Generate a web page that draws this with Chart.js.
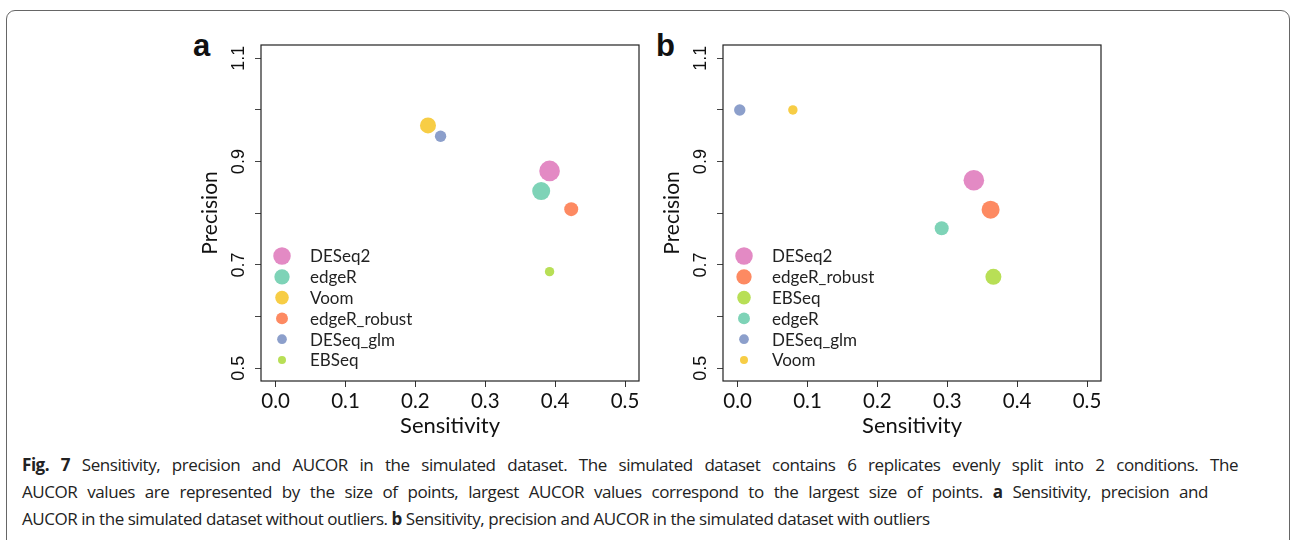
<!DOCTYPE html>
<html>
<head>
<meta charset="utf-8">
<script src="https://cdn.jsdelivr.net/npm/chart.js@4.4.1/dist/chart.umd.min.js"></script>
<style>
  html, body { margin: 0; padding: 0; background: #fff; }
  body { width: 1290px; height: 540px; position: relative; overflow: hidden; font-family: Lato, "Open Sans", sans-serif; }
  .frame { position: absolute; left: 6px; top: 10px; width: 1282px; height: 600px; border: 1.5px solid #666; border-radius: 9px; }
  .panel { position: absolute; top: 25px; width: 500px; height: 425px; }
  .letter { position: absolute; font-family: "Liberation Sans", Arial, sans-serif; font-weight: bold; font-size: 31px; color: #111; line-height: 1; }
  .caption { position: absolute; left: 22px; top: 451px; font-family: "Open Sans", sans-serif; font-size: 17px; line-height: 27px; letter-spacing: -0.45px; color: #222; white-space: nowrap; }
  .caption div { height: 27px; }
  .caption .just { text-align: justify; text-align-last: justify; }
  .caption b { font-weight: bold; }
</style>
</head>
<body>
<div class="frame"></div>
<div class="letter" style="left:193px; top:30px;">a</div>
<div class="letter" style="left:656px; top:30px;">b</div>
<div class="panel" style="left:150px;"><canvas id="chartA"></canvas></div>
<div class="panel" style="left:612px;"><canvas id="chartB"></canvas></div>
<div class="caption">
  <div class="just" style="width:1216px"><b>Fig.&nbsp;7</b> Sensitivity, precision and AUCOR in the simulated dataset. The simulated dataset contains 6 replicates evenly split into 2 conditions. The</div>
  <div class="just" style="width:1186px">AUCOR values are represented by the size of points, largest AUCOR values correspond to the largest size of points. <b>a</b> Sensitivity, precision and</div>
  <div>AUCOR in the simulated dataset without outliers. <b>b</b> Sensitivity, precision and AUCOR in the simulated dataset with outliers</div>
</div>
<script>
// panel a: simulated dataset without outliers
const methodsA = ['DESeq2', 'edgeR', 'Voom', 'edgeR_robust', 'DESeq_glm', 'EBSeq']
const sensitivityA = [0.392, 0.380, 0.218, 0.423, 0.236, 0.392]
const precisionA = [0.882, 0.843, 0.970, 0.808, 0.949, 0.687]
const aucorRankA = [6, 5, 4, 3, 2, 1] // 6 = largest AUCOR

// panel b: simulated dataset with outliers
const methodsB = ['DESeq2', 'edgeR_robust', 'EBSeq', 'edgeR', 'DESeq_glm', 'Voom']
const sensitivityB = [0.338, 0.362, 0.366, 0.292, 0.003, 0.079]
const precisionB = [0.864, 0.807, 0.677, 0.771, 1.000, 1.000]
const aucorRankB = [6, 5, 4, 3, 2, 1]

const xTicks = [0, 0.1, 0.2, 0.3, 0.4, 0.5]
const yTickLabels = ['0.5', '0.7', '0.9', '1.1']

const colors = {
  DESeq2: '#e38ac4',
  edgeR: '#7ed3b7',
  Voom: '#f7cd45',
  edgeR_robust: '#fd8a62',
  DESeq_glm: '#8c9fcb',
  EBSeq: '#b8df56',
}
// point radius per AUCOR rank (1..6)
const rankRadius = [4.7, 5.7, 7, 8, 9, 10.3]

const AXIS_FONT = 'Lato, "Open Sans", sans-serif'

// box round the plot area
const boxPlugin = {
  id: 'box',
  afterDraw(chart) {
    const { ctx, chartArea: a } = chart
    ctx.save()
    ctx.strokeStyle = '#222'
    ctx.lineWidth = 1.2
    ctx.strokeRect(a.left, a.top, a.right - a.left, a.bottom - a.top)
    ctx.restore()
  },
}

// legend inside the plot, lower left
const innerLegend = {
  id: 'innerLegend',
  afterDatasetsDraw(chart) {
    const { ctx, chartArea: a } = chart
    ctx.save()
    ctx.font = '17px ' + AXIS_FONT
    ctx.textBaseline = 'middle'
    chart.data.datasets.forEach((ds, i) => {
      const y = a.top + 211 + i * 20.8
      ctx.beginPath()
      ctx.arc(a.left + 21, y, ds.legendR, 0, Math.PI * 2)
      ctx.fillStyle = ds.backgroundColor
      ctx.fill()
      ctx.fillStyle = '#222'
      ctx.fillText(ds.label, a.left + 49, y + 1)
    })
    ctx.restore()
  },
}

function makeChart(id, methods, sens, prec, ranks) {
  const datasets = methods.map((m, i) => ({
    label: m,
    data: [{ x: sens[i], y: prec[i], r: rankRadius[ranks[i] - 1] }],
    backgroundColor: colors[m],
    borderWidth: 0,
    hoverBorderWidth: 0,
    legendR: rankRadius[ranks[i] - 1] * 0.85,
  }))

  return new Chart(document.getElementById(id), {
    type: 'bubble',
    data: { datasets },
    plugins: [boxPlugin, innerLegend],
    options: {
      responsive: true,
      maintainAspectRatio: false,
      animation: false,
      events: [],
      layout: { padding: { left: 48, top: 20, right: 11, bottom: 11 } },
      plugins: { legend: { display: false }, tooltip: { enabled: false } },
      scales: {
        x: {
          type: 'linear',
          min: -0.021,
          max: 0.52,
          afterFit: (s) => { s.height = 58 },
          afterBuildTicks: (s) => { s.ticks = xTicks.map(v => ({ value: v })) },
          border: { display: false },
          grid: { drawOnChartArea: false, drawTicks: true, tickLength: 6, color: '#333' },
          ticks: {
            padding: 2,
            color: '#111',
            font: { family: AXIS_FONT, size: 20.5 },
            maxRotation: 0,
            autoSkip: false,
            callback: (v) => Number(v).toFixed(1),
          },
          title: { display: true, text: 'Sensitivity', color: '#111', font: { family: AXIS_FONT, size: 22 }, padding: 0 },
        },
        y: {
          type: 'linear',
          min: 0.4754,
          max: 1.1257,
          afterFit: (s) => { s.width = 63 },
          afterBuildTicks: (s) => {
            s.ticks = [0.5, 0.6, 0.7, 0.8, 0.9, 1.0, 1.1].map(v => ({ value: v }))
          },
          border: { display: false },
          grid: { drawOnChartArea: false, drawTicks: true, tickLength: 6, color: '#444' },
          ticks: {
            padding: 3,
            color: '#111',
            font: { family: '"Liberation Sans", Arial, sans-serif', size: 18 },
            minRotation: 90,
            maxRotation: 90,
            crossAlign: 'center',
            autoSkip: false,
            callback: (v) => {
              const s = Number(v).toFixed(1)
              return yTickLabels.includes(s) ? s : ''
            },
          },
          title: { display: true, text: 'Precision', color: '#111', font: { family: AXIS_FONT, size: 21 }, padding: 0 },
        },
      },
    },
  })
}

makeChart('chartA', methodsA, sensitivityA, precisionA, aucorRankA)
makeChart('chartB', methodsB, sensitivityB, precisionB, aucorRankB)
</script>
</body>
</html>
